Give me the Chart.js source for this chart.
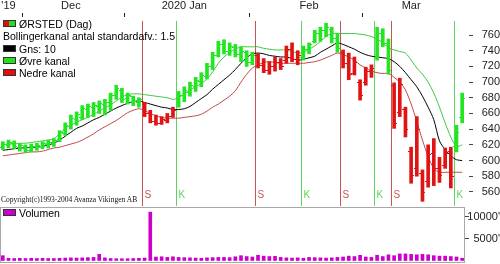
<!DOCTYPE html>
<html lang="da">
<head>
<meta charset="UTF-8">
<title>ØRSTED (Dag)</title>
<script src="https://cdn.jsdelivr.net/npm/chart.js"></script>
<style>
  body { margin: 0; background: #fff; font-family: "Liberation Sans", Arial, sans-serif; }
  #wrap { position: relative; width: 500px; height: 264px; overflow: hidden; background: #fff; }
  canvas { position: absolute; left: 0; }
  .lg { position: absolute; left: 3px; font-size: 10.5px; line-height: 12px; white-space: nowrap; color: #000; }
  .box { display: inline-block; width: 11px; height: 5px; border: 1px solid #333; vertical-align: 1px; margin-right: 3px; }
  #copy { position: absolute; left: 1px; top: 195px; font-family: "Liberation Serif", serif; font-size: 7.5px; color: #111; white-space: nowrap; }
</style>
</head>
<body>
<div id="wrap">
  <canvas id="price" width="500" height="207" style="top:0"></canvas>
  <canvas id="vol" width="500" height="57" style="top:207px"></canvas>

  <!-- legends -->
  <div class="lg" style="top:18px"><span class="box" style="background:linear-gradient(to right,#e01010 50%,#20e020 50%)"></span>ØRSTED (Dag)</div>
  <div class="lg" style="top:30px">Bollingerkanal antal standardafv.: 1.5</div>
  <div class="lg" style="top:43px"><span class="box" style="background:#000"></span>Gns: 10</div>
  <div class="lg" style="top:55px"><span class="box" style="background:#20e020"></span>Øvre kanal</div>
  <div class="lg" style="top:67px"><span class="box" style="background:#e01010"></span>Nedre kanal</div>
  <div id="copy">Copyright(c)1993-2004 Avanza Vikingen AB</div>
  <div class="lg" style="top:207px"><span class="box" style="background:#cc00cc"></span>Volumen</div>
</div>

<script>
// trading days
const dates = [
  '2019-11-26','2019-11-27','2019-11-28','2019-11-29',
  '2019-12-02','2019-12-03','2019-12-04','2019-12-05','2019-12-06','2019-12-09','2019-12-10','2019-12-11','2019-12-12',
  '2019-12-13','2019-12-16','2019-12-17','2019-12-18','2019-12-19','2019-12-20','2019-12-23','2019-12-27','2019-12-30',
  '2020-01-02','2020-01-03','2020-01-06','2020-01-07','2020-01-08','2020-01-09','2020-01-10','2020-01-13','2020-01-14',
  '2020-01-15','2020-01-16','2020-01-17','2020-01-20','2020-01-21','2020-01-22','2020-01-23','2020-01-24','2020-01-27',
  '2020-01-28','2020-01-29','2020-01-30','2020-01-31',
  '2020-02-03','2020-02-04','2020-02-05','2020-02-06','2020-02-07','2020-02-10','2020-02-11','2020-02-12','2020-02-13',
  '2020-02-14','2020-02-17','2020-02-18','2020-02-19','2020-02-20','2020-02-21','2020-02-24','2020-02-25','2020-02-26',
  '2020-02-27','2020-02-28',
  '2020-03-02','2020-03-03','2020-03-04','2020-03-05','2020-03-06','2020-03-09','2020-03-10','2020-03-11','2020-03-12',
  '2020-03-13','2020-03-16','2020-03-17','2020-03-18','2020-03-19','2020-03-20','2020-03-23','2020-03-24','2020-03-25'
];

const lows = [614,616,615,612,610,611,613,615,616,618,624,632,640,645,652,655,656,660,658,664,678,674,672,670,668,
  656,648,645,646,648,655,
  668,675,682,688,694,704,716,732,736,734,732,726,720,722,
  718,712,710,714,716,724,726,722,
  728,736,750,752,758,750,738,
  718,703,709,677,696,706,
  728,745,710,
  641,656,630,571,580,548,566,568,572,590,565,
  611,648];
const highs = [624,626,625,622,620,621,622,624,626,628,638,648,658,662,670,672,674,676,678,686,696,692,686,682,680,
  674,664,658,656,660,668,
  688,694,700,706,712,724,738,752,754,750,748,745,740,738,
  736,730,726,732,730,746,750,740,
  746,750,766,770,775,770,762,
  741,737,732,703,719,722,
  770,768,755,
  699,705,668,617,656,588,620,628,604,616,617,
  645,686];
const opens = [617,620,622,617,619,613,618,619,621,623,627,635,644,653,656,666,668,670,672,674,684,690,680,682,675,
  672,660,650,648,652,657,
  670,683,688,695,702,708,720,735,748,740,745,736,738,726,
  734,722,716,720,726,728,742,730,
  732,742,752,762,766,768,756,
  738,724,712,700,700,714,
  732,762,750,
  696,662,666,612,590,584,574,610,590,594,612,
  618,656];
const closes = [621,623,618,620,613,619,620,622,624,626,636,645,654,659,667,669,671,673,675,683,692,678,683,676,678,
  660,651,648,653,657,665,
  684,690,696,703,709,720,734,748,740,746,736,740,725,734,
  722,716,720,726,720,742,730,734,
  742,748,762,766,770,756,744,
  724,710,726,684,714,718,
  762,750,716,
  648,698,640,582,640,560,608,590,582,610,580,
  636,680];

// Bollinger (10 days, 1.5 std)
const middle = [613,614,615,616,616,617,617,618,620,622,626,631,636,641,644,648,652,655,659,663,667,670,673,675,676,
  674,672,670,668,667,665,665,666,669,674,679,684,691,697,703,709,716,724,731,736,
  737,736,734,733,732,732,730,728,729,731,733,738,742,746,750,
  748,745,742,738,735,733,732,731,730,
  726,720,712,703,694,682,668,652,625,614,606,601,600];
const upper = [620,621,621,622,622,623,624,625,626,628,634,641,645,649,652,655,659,663,667,671,676,681,684,685,685,
  684,683,682,681,680,678,680,685,690,694,698,704,713,724,732,738,742,745,745,745,
  745,743,742,741,741,741,739,737,738,742,746,752,758,762,762,
  762,762,762,761,760,758,755,750,744,
  741,739,737,728,718,710,700,686,668,648,630,618,620];
const lower = [606,607,608,609,610,611,611,612,614,616,617,619,621,623,626,630,634,639,643,647,651,656,661,664,666,
  664,660,657,655,654,654,654,655,656,657,659,663,668,672,677,682,689,700,710,718,
  722,725,726,725,724,724,724,724,724,725,726,728,731,734,737,
  735,732,728,722,718,714,712,711,711,
  706,700,690,672,650,626,605,590,585,585,585,585,585];

const volumes = [1100,500,450,500,450,500,450,500,450,450,500,550,600,550,600,650,700,1400,600,450,400,400,400,450,500,
  550,11100,800,850,700,850,700,650,600,550,500,600,650,700,700,650,850,1100,900,800,
  1200,1000,900,950,700,600,550,600,500,700,650,600,550,600,700,
  800,1000,900,1200,800,700,1200,900,1300,
  1100,1500,1500,1400,1300,1400,1300,1100,1000,1000,900,800,500];

// signals: index of first bar after the signal, S = sell, K = buy
const signalIdx = [25, 31, 45, 53, 60, 66, 69, 80];
const signalType = ['S', 'K', 'S', 'K', 'S', 'K', 'S', 'K'];

const priceTicks = [560, 580, 600, 620, 640, 660, 680, 700, 720, 740, 760];
const volTicks = [5000, 10000];
const monthNames = ["'19", 'Dec', '2020 Jan', 'Feb', 'Mar'];
const monthLabelAt = [1, 12, 32, 54, 72];
const monthStarts = [4, 22, 44, 64];

const GREEN = '#22e622', RED = '#e01414';
const barColors = [];
let state = GREEN;
for (let i = 0; i < dates.length; i++) {
  const k = signalIdx.indexOf(i);
  if (k >= 0) state = signalType[k] === 'K' ? GREEN : RED;
  barColors.push(state);
}

const font = { family: '"Liberation Sans", Arial, sans-serif', size: 11 };

// keep the right axes from shrinking the plot area
const fixRightAxis = s => { s.width = 35; s.paddingTop = 0; s.paddingBottom = 0; };

// vertical buy/sell lines with letters
const signalPlugin = {
  id: 'signals',
  beforeDatasetsDraw(chart) {
    const { ctx, chartArea, scales: { x, y } } = chart;
    const half = (x.getPixelForValue(1) - x.getPixelForValue(0)) / 2;
    ctx.save();
    ctx.lineWidth = 1;
    ctx.font = '10px "Liberation Sans", Arial, sans-serif';
    ctx.textBaseline = 'alphabetic';
    ctx.textAlign = 'left';
    signalIdx.forEach((idx, k) => {
      const px = Math.round(x.getPixelForValue(idx) - half) + 0.5;
      const col = signalType[k] === 'K' ? '#5cd65c' : '#c85454';
      ctx.strokeStyle = col;
      ctx.beginPath();
      ctx.moveTo(px, y.getPixelForValue(778));
      ctx.lineTo(px, chartArea.bottom);
      ctx.stroke();
      ctx.fillStyle = col;
      ctx.fillText(signalType[k], px + 2, chartArea.bottom - 8);
    });
    ctx.restore();
  }
};

// open / close ticks of the OHLC bars
const ohlcTicks = {
  id: 'ohlcTicks',
  afterDatasetsDraw(chart) {
    const { ctx, scales: { y } } = chart;
    const meta = chart.getDatasetMeta(0);
    ctx.save();
    meta.data.forEach((bar, i) => {
      const xo = Math.round(bar.x);
      ctx.fillStyle = barColors[i];
      ctx.fillRect(xo - 3, Math.round(y.getPixelForValue(opens[i])), 2, 1);
      ctx.fillRect(xo + 1, Math.round(y.getPixelForValue(closes[i])), 2, 1);
    });
    ctx.restore();
  }
};

const frame = {
  id: 'frame',
  afterDraw(chart) {
    const { ctx, chartArea: a } = chart;
    ctx.save();
    ctx.strokeStyle = '#a8a8a8';
    ctx.lineWidth = 1;
    ctx.strokeRect(Math.round(a.left) + 0.5, Math.round(a.top) + 0.5, Math.round(a.right - a.left) - 1, Math.round(a.bottom - a.top) - 1);
    ctx.restore();
  }
};

const lineDs = (data, color) => ({
  type: 'line', data, borderColor: color, borderWidth: 1, pointRadius: 0, tension: 0.3, fill: false, order: 1
});

new Chart(document.getElementById('price'), {
  data: {
    labels: dates,
    datasets: [
      { type: 'bar', data: lows.map((l, i) => [l, highs[i]]), backgroundColor: barColors, barThickness: 3, order: 0 },
      lineDs(upper, '#3cc83c'),
      lineDs(middle, '#000000'),
      lineDs(lower, '#c04848')
    ]
  },
  options: {
    responsive: false,
    animation: false,
    events: [],
    layout: { padding: { left: 0, right: 0, top: 0, bottom: 1 } },
    plugins: { legend: { display: false }, tooltip: { enabled: false } },
    scales: {
      x: {
        position: 'top',
        offset: true,
        border: { display: false },
        grid: {
          drawOnChartArea: false,
          tickLength: 4,
          lineWidth: 1,
          color: c => monthStarts.includes(c.index) ? '#222' : 'rgba(0,0,0,0)'
        },
        ticks: {
          autoSkip: false, maxRotation: 0, minRotation: 0, padding: 0, color: '#222', font,
          callback: (v, i) => { const k = monthLabelAt.indexOf(i); return k < 0 ? '' : monthNames[k]; }
        },
        afterFit: s => { s.height = 17; s.paddingLeft = 0; s.paddingRight = 0; }
      },
      y: {
        position: 'right',
        min: 542, max: 783,
        border: { display: false },
        grid: { drawOnChartArea: false, tickLength: 8, color: '#444', tickBorderDash: [0, 4, 4, 10] },
        ticks: { padding: 5, crossAlign: 'far', color: '#222', font },
        afterBuildTicks: s => { s.ticks = priceTicks.map(v => ({ value: v })); },
        afterFit: fixRightAxis
      }
    }
  },
  plugins: [signalPlugin, ohlcTicks]
});

new Chart(document.getElementById('vol'), {
  type: 'bar',
  data: {
    labels: dates,
    datasets: [{ data: volumes, backgroundColor: '#cc00cc', barThickness: 3 }]
  },
  options: {
    responsive: false,
    animation: false,
    events: [],
    layout: { padding: { top: 0, bottom: 1 } },
    plugins: { legend: { display: false }, tooltip: { enabled: false } },
    scales: {
      x: { display: false, offset: true },
      y: {
        position: 'right',
        min: -580, max: 12270,
        border: { display: false },
        grid: { drawOnChartArea: false, tickLength: 4, color: '#444' },
        ticks: { padding: -2, crossAlign: 'far', color: '#222', font, callback: v => v + "'" },
        afterBuildTicks: s => { s.ticks = volTicks.map(v => ({ value: v })); },
        afterFit: fixRightAxis
      }
    }
  },
  plugins: [frame]
});
</script>
</body>
</html>
